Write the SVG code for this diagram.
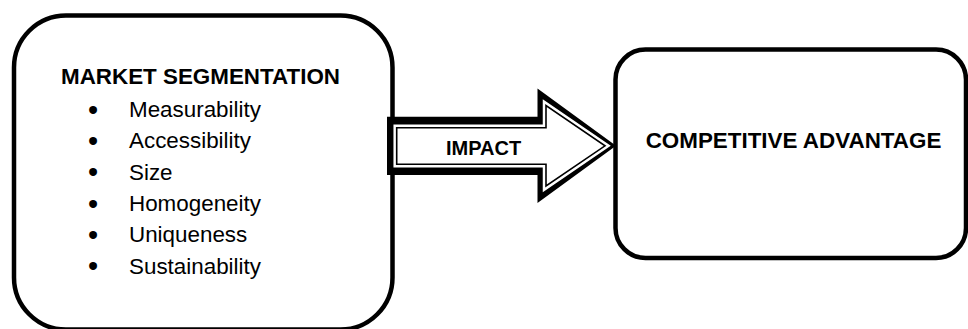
<svg xmlns="http://www.w3.org/2000/svg" width="968" height="329" viewBox="0 0 968 329">
<style>
.box{fill:#fff;stroke:#000;stroke-width:4.5}
.b{font-family:"Liberation Sans",Arial,sans-serif;font-weight:bold;fill:#000}
.r{font-family:"Liberation Sans",Arial,sans-serif;font-size:22.4px;fill:#000}
.bu{font-size:29px}
</style>
<rect width="968" height="329" fill="#fff"/>
<g id="market-segmentation">
<rect class="box" x="14" y="15.5" width="378.5" height="314" rx="52" ry="52"/>
<text class="b" x="61" y="84" font-size="22.4">MARKET SEGMENTATION</text>
<g class="r">
<text class="bu" x="93" y="119.5" text-anchor="middle">•</text><text x="129" y="117">Measurability</text>
<text class="bu" x="93" y="150.8" text-anchor="middle">•</text><text x="129" y="148.3">Accessibility</text>
<text class="bu" x="93" y="182.2" text-anchor="middle">•</text><text x="129" y="179.7">Size</text>
<text class="bu" x="93" y="213.5" text-anchor="middle">•</text><text x="129" y="211">Homogeneity</text>
<text class="bu" x="93" y="244.8" text-anchor="middle">•</text><text x="129" y="242.3">Uniqueness</text>
<text class="bu" x="93" y="276.2" text-anchor="middle">•</text><text x="129" y="273.7">Sustainability</text>
</g>
</g>
<g id="competitive-advantage">
<rect class="box" x="615.5" y="49.5" width="350.5" height="208.5" rx="30" ry="30"/>
<text class="b" x="645.7" y="148.3" font-size="22.4">COMPETITIVE ADVANTAGE</text>
</g>
<g id="connectors">
<polygon points="387,116.7 537.5,116.7 537.5,88.5 616,145.8 537.5,203 537.5,175 387,175" fill="#000"/>
<polygon points="396.7,127.7 546,127.7 546,105.5 605,145.8 546,186 546,164.3 396.7,164.3" fill="#fff" stroke="#fff" stroke-width="6.5"/>
<polygon points="396.7,127.7 546,127.7 546,105.5 605,145.8 546,186 546,164.3 396.7,164.3" fill="none" stroke="#000" stroke-width="1.6"/>
<text class="b" x="446" y="155" font-size="20">IMPACT</text>
</g>
</svg>
